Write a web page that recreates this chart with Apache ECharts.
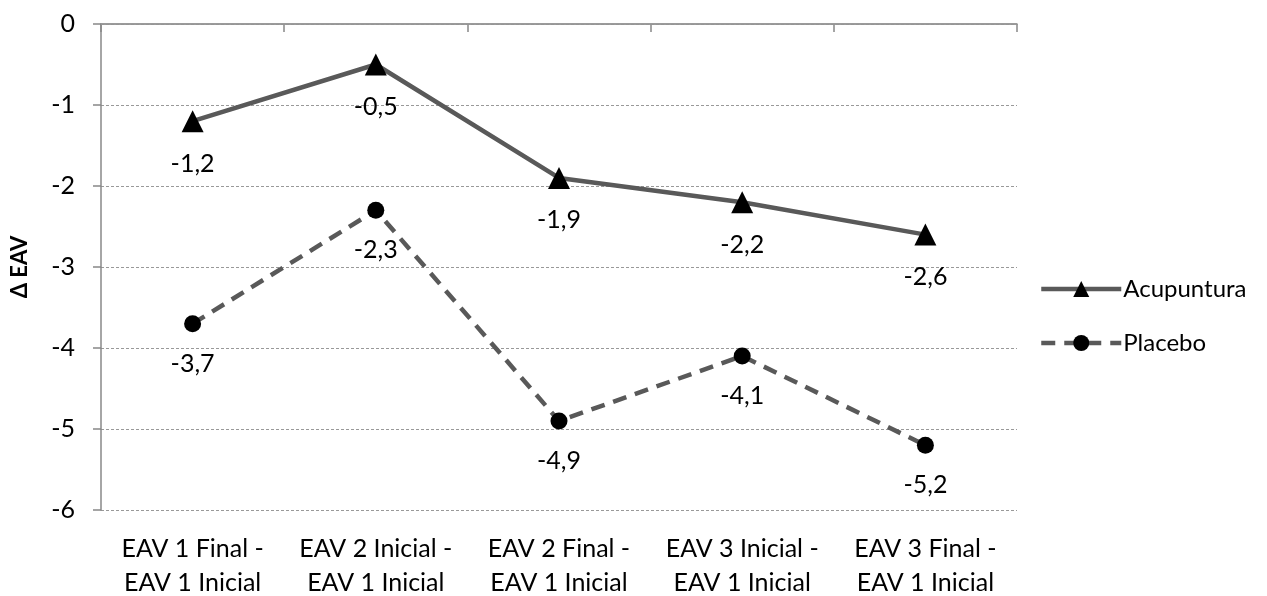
<!DOCTYPE html>
<html><head><meta charset="utf-8">
<script src="https://cdn.jsdelivr.net/npm/echarts@6/dist/echarts.min.js"></script>
<style>html,body{margin:0;padding:0;background:#fff}#c{width:1267px;height:596px}</style>
</head><body><div id="c"></div>
<script>
const categories = ['EAV 1 Final -\nEAV 1 Inicial','EAV 2 Inicial -\nEAV 1 Inicial','EAV 2 Final -\nEAV 1 Inicial','EAV 3 Inicial -\nEAV 1 Inicial','EAV 3 Final -\nEAV 1 Inicial'];
const acupuntura = [-1.2, -0.5, -1.9, -2.2, -2.6];
const placebo = [-3.7, -2.3, -4.9, -4.1, -5.2];
const yTicks = [0,-1,-2,-3,-4,-5,-6];
const FONT = 'Lato, "Open Sans", sans-serif';
const FS = 25;
const chart = echarts.init(document.getElementById('c'));
const lbl = {show:true, position:'bottom', distance:19, color:'#000', fontSize:FS, fontFamily:FONT,
  formatter: p => String(p.value).replace('.', ',')};
chart.setOption({
  animation:false,
  grid:{left:101, right:250, top:24, bottom:86, outerBoundsMode:'none', containLabel:false},
  legend:{orient:'vertical', left:1034, top:272, itemWidth:80, itemHeight:20, itemGap:30,
    textStyle:{fontSize:FS-1, fontFamily:FONT, color:'#000', padding:[0,0,0,-3]},
    data:[{name:'Acupuntura', lineStyle:{width:4.5}}, {name:'Placebo', lineStyle:{width:4.5}}]},
  xAxis:{type:'category', data:categories, boundaryGap:true,
    axisLine:{lineStyle:{color:'#888', width:1.5}},
    axisTick:{show:true, interval:0, length:8, lineStyle:{color:'#888', width:1.5}},
    axisLabel:{interval:0, hideOverlap:false, fontSize:FS, fontFamily:FONT, color:'#000', lineHeight:34, margin:22}},
  yAxis:{type:'value', min:-6, max:0, interval:1,
    name:'Δ EAV', nameLocation:'middle', nameGap:70, nameRotate:90,
    nameTextStyle:{fontSize:FS-3, fontWeight:'bold', fontFamily:FONT, color:'#000'},
    axisLine:{show:true, lineStyle:{color:'#888', width:1.5}},
    axisTick:{show:true, length:8, lineStyle:{color:'#888', width:1.5}},
    axisLabel:{fontSize:FS, fontFamily:FONT, color:'#000', margin:26},
    splitLine:{show:true, lineStyle:{color:'#999', type:[3,2], width:1}}},
  series:[
    {name:'Acupuntura', type:'line', data:acupuntura, symbol:'triangle', symbolSize:22,
      lineStyle:{color:'#595959', width:4.5}, itemStyle:{color:'#000'}, label:lbl,
      markLine:{silent:true, symbol:'none', label:{show:false},
        lineStyle:{color:'#999', type:'solid', width:1.5}, data:[{yAxis:0}]}},
    {name:'Placebo', type:'line', data:placebo, symbol:'circle', symbolSize:17,
      lineStyle:{color:'#595959', width:4.5, type:[14,9]}, itemStyle:{color:'#000'}, label:lbl}
  ]
});
</script></body></html>
